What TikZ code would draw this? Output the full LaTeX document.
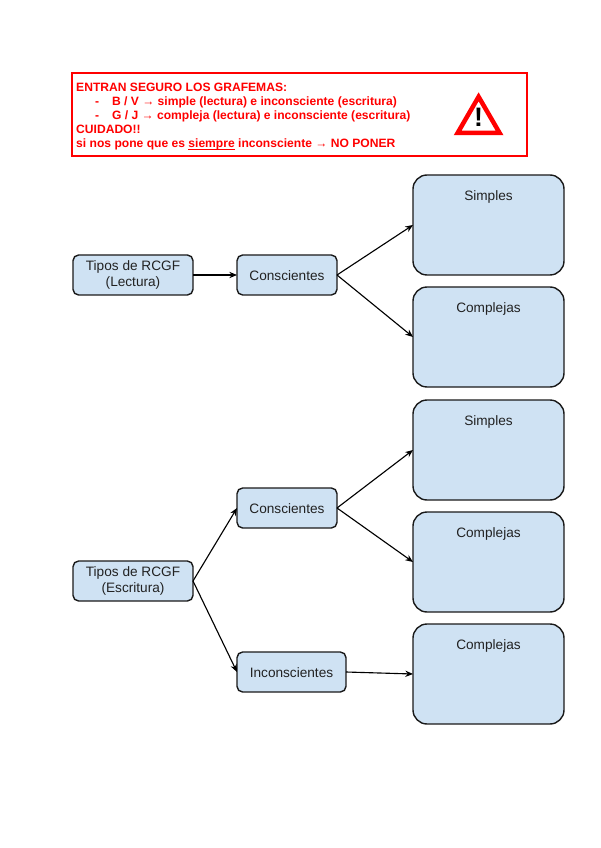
\documentclass[tikz,border=0pt]{standalone}
\usepackage{fontspec}
\setmainfont{Liberation Sans}
\usetikzlibrary{arrows.meta,positioning}
\definecolor{BoxBlue}{HTML}{CFE2F3}
\definecolor{BoxLine}{HTML}{1A1A1A}
\definecolor{TextGray}{HTML}{222222}
\newcommand{\redunder}[1]{\setbox0\hbox{#1}\rlap{\color{red}\rule[-1.3pt]{\wd0}{0.7pt}}\box0\relax}

\begin{document}
\begin{tikzpicture}[
  smallbox/.style={draw=BoxLine, line width=1pt, fill=BoxBlue, rounded corners=4pt,
              minimum height=1.0cm, inner sep=0pt, outer sep=0pt, align=center,
              font=\fontsize{9.7}{12}\selectfont, text=TextGray,
              execute at begin node={\rule{0pt}{8.5pt}}},
  twolines/.style={execute at begin node={\rule{0pt}{12.5pt}}},
  bigbox/.style={draw=BoxLine, line width=1pt, fill=BoxBlue, rounded corners=10pt,
              minimum width=3.775cm, minimum height=2.5cm, inner sep=0pt, outer sep=0pt,
              label={[anchor=center, yshift=-0.54cm, inner sep=0pt, text=TextGray,
                      font=\fontsize{9.7}{12}\selectfont]90:#1}},
  link/.style={-{Stealth[length=5.5pt,width=4.5pt]}, line width=0.8pt, black},
  node distance=0.3cm
]
  \useasboundingbox (0,0) rectangle (15,-21.2);

  % aviso
  \node[draw=red, line width=1.5pt, minimum width=11.375cm, minimum height=2.075cm,
        inner sep=0pt] (notice) at (7.4875,-2.865) {};
  \node[anchor=west, align=left, inner sep=0pt, text=red,
        font=\fontsize{8.6}{9.95}\selectfont\bfseries, xshift=0.125cm, yshift=-0.06cm] (noticetext) at (notice.west)
    {ENTRAN SEGURO LOS GRAFEMAS:\\
     \hspace{0.475cm}-\hspace{0.32cm}B / V → simple (lectura) e inconsciente (escritura)\\
     \hspace{0.475cm}-\hspace{0.32cm}G / J → compleja (lectura) e inconsciente (escritura)\\
     CUIDADO!!\\
     si nos pone que es \redunder{siempre} inconsciente → NO PONER};
  \draw[red, line width=3.2pt, fill=white, line join=miter]
    (11.44,-3.325) -- (12.49,-3.325) -- (11.965,-2.42) -- cycle;
  \node[inner sep=0pt, font=\fontsize{19}{19}\selectfont\bfseries] (warn) at (11.965,-2.94) {!};

  % lectura
  \node[smallbox, twolines, minimum width=3cm] (tipos1) at (3.325,-6.875) {Tipos de RCGF\\(Lectura)};
  \node[smallbox, minimum width=2.5cm, right=1.1cm of tipos1] (conc1) {Conscientes};
  \node[bigbox=Simples, right=1.9cm of conc1, yshift=1.25cm] (simples1) {};
  \node[bigbox=Complejas, below=of simples1] (complejas1) {};

  % escritura
  \node[smallbox, twolines, minimum width=3cm] (tipos2) at (3.325,-14.525) {Tipos de RCGF\\(Escritura)};
  \node[smallbox, minimum width=2.5cm, right=1.1cm of tipos2, yshift=1.825cm] (conc2) {Conscientes};
  \node[smallbox, minimum width=2.725cm, right=1.1cm of tipos2, yshift=-2.275cm] (inconc) {Inconscientes};
  \node[bigbox=Simples, right=1.9cm of conc2, yshift=1.45cm] (simples2) {};
  \node[bigbox=Complejas, below=of simples2] (complejas2) {};
  \node[bigbox=Complejas, below=of complejas2] (complejas3) {};

  \draw[link] (tipos1.east) -- (conc1.west);
  \draw[link] (conc1.east) -- (simples1.west);
  \draw[link] (conc1.east) -- (complejas1.west);
  \draw[link] (tipos2.east) -- (conc2.west);
  \draw[link] (tipos2.east) -- (inconc.west);
  \draw[link] (conc2.east) -- (simples2.west);
  \draw[link] (conc2.east) -- (complejas2.west);
  \draw[link] (inconc.east) -- (complejas3.west);
\end{tikzpicture}
\end{document}
